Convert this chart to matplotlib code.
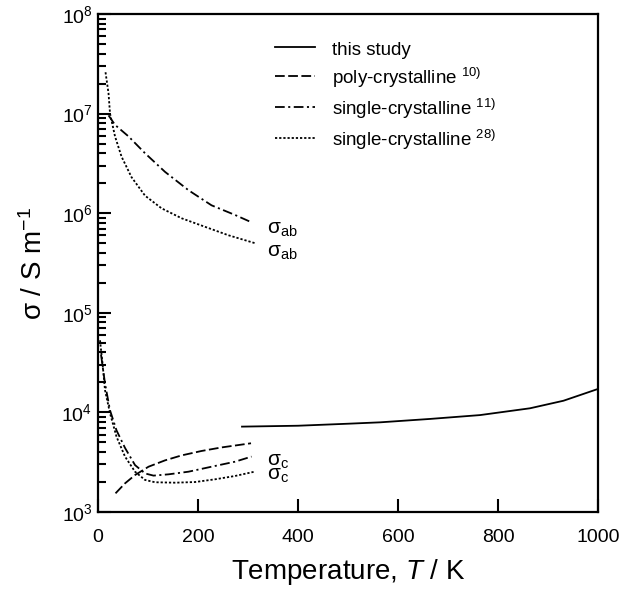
import matplotlib
matplotlib.use("Agg")
import matplotlib.pyplot as plt
from matplotlib.ticker import LogLocator, FixedLocator, NullLocator

plt.rcParams['font.family'] = ['Liberation Sans', 'DejaVu Sans']
plt.rcParams['mathtext.fontset'] = 'custom'
plt.rcParams['mathtext.rm'] = 'Liberation Sans'
plt.rcParams['mathtext.it'] = 'Liberation Sans:italic'
plt.rcParams['mathtext.default'] = 'regular'
plt.rcParams['lines.scale_dashes'] = False

# this study
T_this = [288, 400, 500, 564, 664, 764, 864, 931, 1000]
s_this = [7.2e3, 7.35e3, 7.7e3, 7.95e3, 8.6e3, 9.4e3, 1.1e4, 1.31e4, 1.72e4]

# poly-crystalline 10) (sigma_c)
T_poly = [35, 54, 74, 101, 134, 167, 207, 247, 306]
s_poly = [1.54e3, 1.94e3, 2.35e3, 2.85e3, 3.3e3, 3.7e3, 4.1e3, 4.45e3, 4.9e3]

# single-crystalline 11)
T_s11_ab = [21, 34, 61, 94, 134, 181, 227, 274, 307]
s_s11_ab = [9.6e6, 7.7e6, 5.9e6, 4.0e6, 2.6e6, 1.7e6, 1.2e6, 9.6e5, 8.1e5]
T_s11_c = [6, 14, 24, 37, 54, 74, 94, 111, 141, 181, 227, 274, 307]
s_s11_c = [3.8e4, 1.95e4, 1.05e4, 6.6e3, 4.4e3, 2.96e3, 2.44e3, 2.32e3,
           2.39e3, 2.54e3, 2.85e3, 3.2e3, 3.6e3]

# single-crystalline 28)
T_s28_ab = [15, 21, 24, 34, 47, 67, 94, 127, 167, 214, 261, 314]
s_s28_ab = [2.6e7, 1.6e7, 1.0e7, 5.9e6, 3.7e6, 2.3e6, 1.5e6, 1.12e6,
            8.9e5, 7.3e5, 6.0e5, 5.0e5]
T_s28_c = [4, 9, 14, 24, 37, 54, 74, 94, 114, 154, 194, 234, 274, 313]
s_s28_c = [5.3e4, 3.1e4, 1.67e4, 9.8e3, 5.7e3, 3.6e3, 2.54e3, 2.1e3,
           1.99e3, 1.97e3, 2.0e3, 2.13e3, 2.3e3, 2.54e3]

dash = (7, 2.5)
dashdot = (7, 2.5, 1.5, 2.5)
dot = (1.6, 1.4)
lw = 1.3

fig = plt.figure(figsize=(6.34, 5.92), dpi=100)
ax = fig.add_axes([0.1546, 0.1351, 0.7886, 0.8413])

ax.plot(T_this, s_this, color='black', lw=lw, label='this study')
ax.plot(T_poly, s_poly, color='black', lw=lw, dashes=dash,
        label='poly-crystalline $^{10)}$')
ax.plot(T_s11_ab, s_s11_ab, color='black', lw=lw, dashes=dashdot,
        label='single-crystalline $^{11)}$')
ax.plot(T_s11_c, s_s11_c, color='black', lw=lw, dashes=dashdot)
ax.plot(T_s28_ab, s_s28_ab, color='black', lw=lw, dashes=dot,
        label='single-crystalline $^{28)}$')
ax.plot(T_s28_c, s_s28_c, color='black', lw=lw, dashes=dot)

ax.set_yscale('log')
ax.set_xlim(0, 1000)
ax.set_ylim(1e3, 1e8)

ax.xaxis.set_major_locator(FixedLocator([0, 200, 400, 600, 800, 1000]))
ax.xaxis.set_minor_locator(NullLocator())
ax.yaxis.set_major_locator(LogLocator(base=10, numticks=10))
ax.yaxis.set_minor_locator(LogLocator(base=10, subs=range(2, 10), numticks=10))

ax.tick_params(which='both', direction='in', top=False, right=False,
               labelsize=14, width=1.5)
ax.tick_params(which='major', length=9.5)
ax.tick_params(which='minor', length=5.5)
ax.tick_params(axis='x', which='major', pad=12)
ax.tick_params(axis='y', which='major', pad=4)
for s in ax.spines.values():
    s.set_linewidth(1.6)

ax.set_xlabel('Temperature, $\\it{T}$ / K', fontsize=20, labelpad=8)
ax.set_ylabel('σ / S m$^{-1}$', fontsize=20, labelpad=9.5)

ax.text(338, 6.8e5, 'σ$_{ab}$', fontsize=15, va='center', ha='left')
ax.text(338, 4.0e5, 'σ$_{ab}$', fontsize=15, va='center', ha='left')
ax.text(338, 3.2e3, 'σ$_{c}$', fontsize=15, va='center', ha='left')
ax.text(338, 2.3e3, 'σ$_{c}$', fontsize=15, va='center', ha='left')

ax.legend(loc='upper left', bbox_to_anchor=(0.354, 0.950), frameon=False,
          fontsize=13.5, handlelength=2.13, handletextpad=0.9,
          handleheight=1.3, labelspacing=0.36, borderpad=0, borderaxespad=0)

fig.savefig('out.png', dpi=100)
